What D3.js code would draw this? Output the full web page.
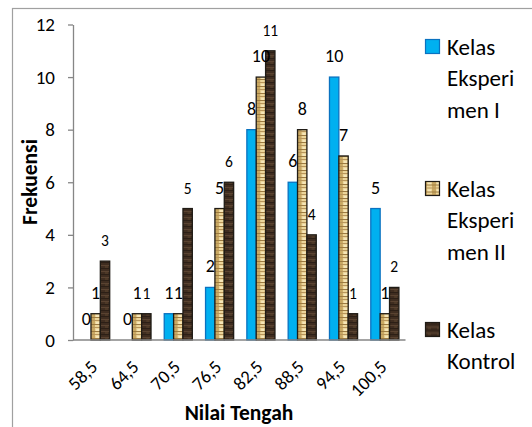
<!DOCTYPE html>
<html>
<head>
<meta charset="utf-8">
<script src="https://cdn.jsdelivr.net/npm/d3@7"></script>
<style>
	body { margin: 0; background: #fff; }
	text { font-family: Calibri, Carlito, Lato, sans-serif; fill: #000; }
</style>
</head>
<body>
<svg id="chart" width="532" height="427"></svg>
<script>
// chart values
const CATEGORIES = ['58,5', '64,5', '70,5', '76,5', '82,5', '88,5', '94,5', '100,5'];
const SERIES = ['Kelas Eksperimen I', 'Kelas Eksperimen II', 'Kelas Kontrol'];
const EKSPERIMEN_1 = [0, 0, 1, 2, 8, 6, 10, 5];
const EKSPERIMEN_2 = [1, 1, 1, 5, 10, 8, 7, 1];
const KONTROL = [3, 1, 5, 6, 11, 4, 1, 2];
const Y_TICKS = [0, 2, 4, 6, 8, 10, 12];
const LEGEND_LINES = [['Kelas', 'Eksperi', 'men I'], ['Kelas', 'Eksperi', 'men II'], ['Kelas', 'Kontrol']];

const svg = d3.select('#chart');

// textures for the two "picture" fills
const defs = svg.append('defs');
let beige = defs.append('pattern').attr('id', 'beige')
	.attr('patternUnits', 'userSpaceOnUse').attr('width', 9).attr('height', 7);
beige.append('rect').attr('width', 9).attr('height', 7).attr('fill', '#c9a862');
beige.append('rect').attr('x', 2).attr('width', 5).attr('height', 7).attr('fill', '#ecd59a');
beige.append('rect').attr('y', 2).attr('width', 9).attr('height', 1).attr('fill', '#9c7a40');
beige.append('rect').attr('y', 5).attr('width', 9).attr('height', 1).attr('fill', '#b8955a');
beige.append('rect').attr('x', 3).attr('y', 0).attr('width', 3).attr('height', 2).attr('fill', '#f6e6b8');

let brown = defs.append('pattern').attr('id', 'brown')
	.attr('patternUnits', 'userSpaceOnUse').attr('width', 9).attr('height', 6);
brown.append('rect').attr('width', 9).attr('height', 6).attr('fill', '#3f2d20');
brown.append('rect').attr('y', 1).attr('width', 9).attr('height', 1).attr('fill', '#5a4331');
brown.append('rect').attr('y', 4).attr('width', 9).attr('height', 1).attr('fill', '#2c1f16');
brown.append('rect').attr('x', 3).attr('y', 2).attr('width', 3).attr('height', 2).attr('fill', '#4d3927');

const FILLS = ['#00b0f0', 'url(#beige)', 'url(#brown)'];
const STROKES = ['#0a72c0', '#1f1b15', '#1f1b15'];

// outer frame
svg.append('rect')
	.attr('x', 12.5).attr('y', 8.5)
	.attr('width', 600).attr('height', 500)
	.attr('fill', 'none').attr('stroke', '#a0a0a0').attr('stroke-width', 1.2);

const data = CATEGORIES.map((c, i) => {
	return {cat: c, vals: [EKSPERIMEN_1[i], EKSPERIMEN_2[i], KONTROL[i]]};
});

const x0 = d3.scaleBand().domain(CATEGORIES).range([75, 405.5]);
const x1 = d3.scaleBand().domain(d3.range(3))
	.range([x0.bandwidth() * 0.16, x0.bandwidth() * 0.84]);
const y = d3.scaleLinear().domain([0, 12]).range([340, 24.5]);

// y axis
let yAxis = svg.append('g')
	.attr('transform', 'translate(73,0)')
	.call(d3.axisLeft(y).tickValues(Y_TICKS).tickSize(5).tickSizeOuter(0).tickPadding(13));
yAxis.selectAll('path, line').attr('stroke', '#868686').attr('stroke-width', 1.3);
yAxis.selectAll('text').attr('font-size', 19);

// bars
let groups = svg.append('g').selectAll('g')
	.data(data)
	.enter().append('g')
	.attr('transform', d => 'translate(' + x0(d.cat) + ',0)');

groups.selectAll('rect')
	.data(d => d.vals.map((v, k) => ({k: k, v: v})))
	.enter().append('rect')
	.attr('x', d => x1(d.k))
	.attr('y', d => y(d.v))
	.attr('width', x1.bandwidth())
	.attr('height', d => y(0) - y(d.v))
	.attr('fill', d => FILLS[d.k])
	.attr('stroke', d => STROKES[d.k])
	.attr('stroke-width', 1.3);

// data labels
groups.selectAll('text')
	.data(d => d.vals.map((v, k) => ({k: k, v: v})))
	.enter().append('text')
	.attr('x', d => x1(d.k) + x1.bandwidth() / 2)
	.attr('y', d => y(d.v) - 15)
	.attr('text-anchor', 'middle')
	.attr('font-size', d => d.k == 2 ? 15.5 : 18)
	.text(d => d.v);

// x axis
svg.append('line')
	.attr('x1', 73).attr('x2', x0.range()[1])
	.attr('y1', y(0)).attr('y2', y(0))
	.attr('stroke', '#868686').attr('stroke-width', 1.3);

svg.append('g').selectAll('text')
	.data(CATEGORIES)
	.enter().append('text')
	.attr('transform', d => 'translate(' + (x0(d) + x0.bandwidth() / 2 + 3) + ',368) rotate(-45)')
	.attr('text-anchor', 'end')
	.attr('font-size', 18.5)
	.text(d => d);

// axis titles
svg.append('text')
	.attr('x', 239).attr('y', 420)
	.attr('text-anchor', 'middle')
	.attr('font-weight', 'bold').attr('font-size', 21.5)
	.text('Nilai Tengah');

svg.append('text')
	.attr('transform', 'translate(37,182) rotate(-90)')
	.attr('text-anchor', 'middle')
	.attr('font-weight', 'bold').attr('font-size', 21.5)
	.text('Frekuensi');

// legend
const LEGEND_Y = [54.5, 196.5, 337.5];
let legend = svg.append('g').selectAll('g')
	.data(SERIES)
	.enter().append('g')
	.attr('transform', (d, i) => 'translate(425,' + LEGEND_Y[i] + ')');

legend.append('rect')
	.attr('x', 0.5).attr('y', -15)
	.attr('width', 14).attr('height', 14)
	.attr('fill', (d, i) => FILLS[i])
	.attr('stroke', (d, i) => STROKES[i])
	.attr('stroke-width', 1.2);

legend.append('text')
	.attr('x', 22)
	.attr('font-size', 23)
	.selectAll('tspan')
	.data((d, i) => LEGEND_LINES[i])
	.enter().append('tspan')
	.attr('x', 22)
	.attr('dy', (d, j) => j == 0 ? 0 : 31.5)
	.text(d => d);
</script>
</body>
</html>
